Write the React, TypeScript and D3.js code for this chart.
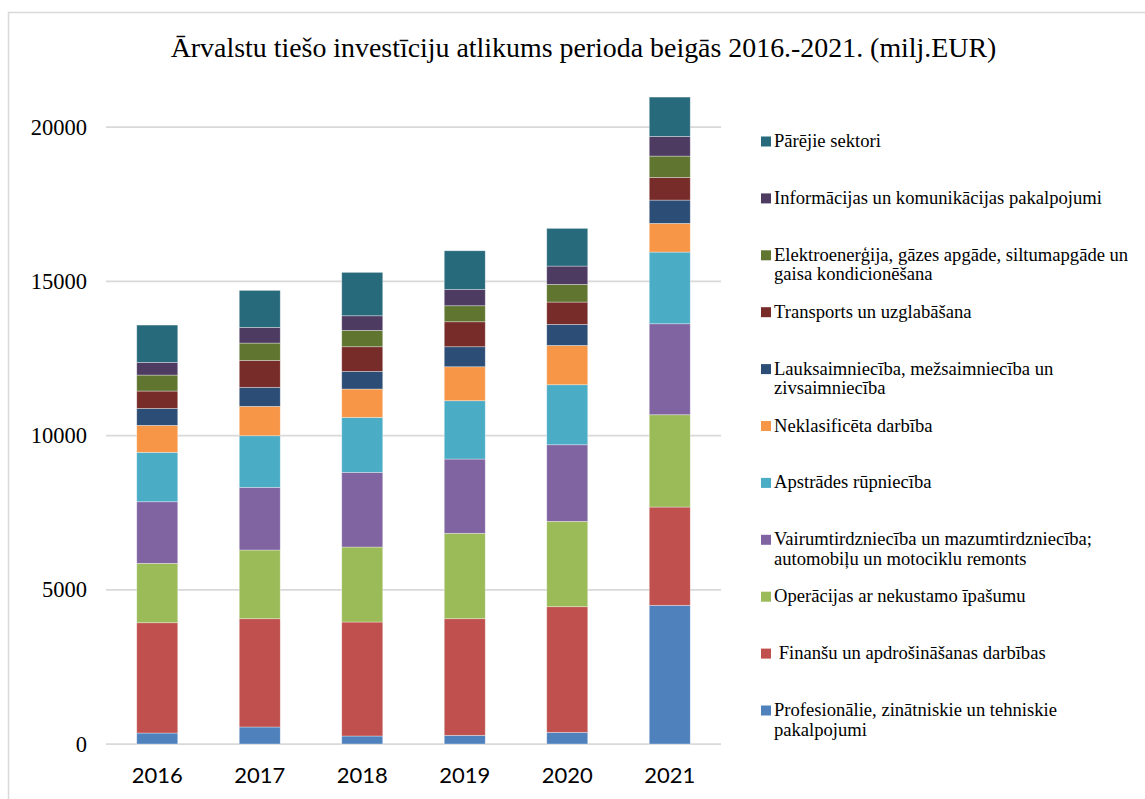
import React, { useEffect, useRef } from "react";
import * as d3 from "d3";

// Gadi
const years = ["2016", "2017", "2018", "2019", "2020", "2021"];

// Nozares (no apakšas uz augšu), milj. EUR
const profesionalie = [356, 551, 259, 281, 378, 4495];
const finansu = [3575, 3510, 3695, 3780, 4072, 3186];
const operacijas = [1925, 2227, 2431, 2768, 2767, 2992];
const vairumtirdz = [1997, 2032, 2421, 2408, 2483, 2949];
const apstrades = [1601, 1672, 1782, 1890, 1945, 2324];
const neklasificeta = [875, 953, 918, 1101, 1275, 930];
const lauksaimn = [551, 616, 573, 649, 682, 755];
const transports = [561, 875, 798, 810, 723, 736];
const elektro = [518, 560, 531, 519, 574, 690];
const informacijas = [412, 509, 473, 531, 593, 639];
const parejie = [1209, 1199, 1407, 1251, 1222, 1274];

const yTicks = [0, 5000, 10000, 15000, 20000];

const seriesNames = [
  "Profesionālie, zinātniskie un tehniskie\npakalpojumi",
  " Finanšu un apdrošināšanas darbības",
  "Operācijas ar nekustamo īpašumu",
  "Vairumtirdzniecība un mazumtirdzniecība;\nautomobiļu un motociklu remonts",
  "Apstrādes rūpniecība",
  "Neklasificēta darbība",
  "Lauksaimniecība, mežsaimniecība un\nzivsaimniecība",
  "Transports un uzglabāšana",
  "Elektroenerģija, gāzes apgāde, siltumapgāde un\ngaisa kondicionēšana",
  "Informācijas un komunikācijas pakalpojumi",
  "Pārējie sektori",
];
const seriesValues = [
  profesionalie, finansu, operacijas, vairumtirdz, apstrades, neklasificeta,
  lauksaimn, transports, elektro, informacijas, parejie,
];
const colors = [
  "#4F81BD", "#C0504D", "#9BBB59", "#8064A2", "#4BACC6", "#F79646",
  "#2C4D75", "#772C2A", "#5F7530", "#4D3B62", "#276A7C",
];

const title = "Ārvalstu tiešo investīciju atlikums perioda beigās 2016.-2021. (milj.EUR)";

const serif = "'Liberation Serif', 'Times New Roman', serif";

export default function App() {
  const ref = useRef<SVGSVGElement>(null);

  useEffect(() => {
    const w = 1145;
    const h = 799;
    const left = 106;
    const right = 721;
    const top = 127;
    const bottom = 744;

    const svg = d3.select(ref.current);
    svg.selectAll("*").remove();

    const rows = years.map((y, i) => {
      const r: any = { year: y };
      seriesValues.forEach((s, k) => (r["s" + k] = s[i]));
      return r;
    });
    const keys = seriesValues.map((_, k) => "s" + k);
    const stacked = d3.stack().keys(keys)(rows);

    const x = d3.scaleBand().domain(years).range([left, right]).paddingInner(0.6).paddingOuter(0.3);
    const y = d3.scaleLinear().domain([0, 20000]).range([bottom, top]);

    // rāmis
    svg
      .append("rect")
      .attr("x", 8.5)
      .attr("y", 12.5)
      .attr("width", w + 20)
      .attr("height", h + 20)
      .attr("fill", "none")
      .attr("stroke", "#d9d9d9")
      .attr("stroke-width", 1.5);

    // virsraksts
    svg
      .append("text")
      .attr("x", 583.5)
      .attr("y", 57)
      .attr("text-anchor", "middle")
      .attr("font-family", serif)
      .attr("font-size", 27.9)
      .attr("fill", "#000")
      .text(title);

    // režģis
    svg
      .append("g")
      .selectAll("line")
      .data(yTicks)
      .join("line")
      .attr("x1", left)
      .attr("x2", right)
      .attr("y1", (d) => y(d))
      .attr("y2", (d) => y(d))
      .attr("stroke", "#d9d9d9")
      .attr("stroke-width", 1.75);

    // y ass
    svg
      .append("g")
      .selectAll("text")
      .data(yTicks)
      .join("text")
      .attr("x", 87)
      .attr("y", (d) => y(d) + 7.5)
      .attr("text-anchor", "end")
      .attr("font-family", serif)
      .attr("font-size", 22.5)
      .attr("fill", "#000")
      .text((d) => String(d));

    // stabiņi
    svg
      .append("g")
      .selectAll("g")
      .data(stacked)
      .join("g")
      .attr("fill", (_, i) => colors[i])
      .selectAll("rect")
      .data((d) => d)
      .join("rect")
      .attr("x", (d: any) => x(d.data.year)!)
      .attr("width", x.bandwidth())
      .attr("y", (d) => y(d[1]))
      .attr("height", (d) => y(d[0]) - y(d[1]))
      .attr("stroke", "rgba(255,255,255,0.45)")
      .attr("stroke-width", 0.75);

    // x ass
    svg
      .append("g")
      .selectAll("text")
      .data(years)
      .join("text")
      .attr("x", (d) => x(d)! + x.bandwidth() / 2)
      .attr("y", 783)
      .attr("text-anchor", "middle")
      .attr("font-family", "Lato, 'Open Sans', sans-serif")
      .attr("font-size", 22)
      .attr("fill", "#000")
      .text((d) => d);

    // leģenda
    const legendTop = 147;
    const legendStep = 56.9;
    const legend = svg
      .append("g")
      .selectAll("g")
      .data(seriesNames.map((n, i) => ({ n, i })).reverse())
      .join("g")
      .attr("transform", (_, j) => `translate(761, ${legendTop + j * legendStep})`);

    legend
      .append("rect")
      .attr("x", 0)
      .attr("y", -10.5)
      .attr("width", 10)
      .attr("height", 10)
      .attr("fill", (d) => colors[d.i]);

    legend
      .append("text")
      .attr("font-family", serif)
      .attr("font-size", 18.6)
      .attr("fill", "#000")
      .style("white-space", "pre")
      .selectAll("tspan")
      .data((d) => d.n.split("\n"))
      .join("tspan")
      .attr("x", 13)
      .attr("y", (_, k) => k * 19.5)
      .text((t) => t);
  }, []);

  return (
    <svg
      ref={ref}
      width={1145}
      height={799}
      style={{ position: "absolute", left: 0, top: 0, background: "#fff" }}
    />
  );
}
